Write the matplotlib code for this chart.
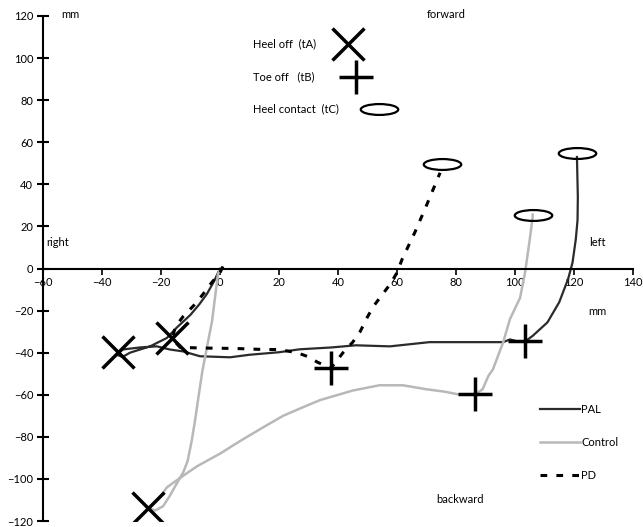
import numpy as np
import matplotlib
matplotlib.use("Agg")
import matplotlib.pyplot as plt
from matplotlib.path import Path
from matplotlib.transforms import Affine2D
from matplotlib.lines import Line2D
from matplotlib.legend import Legend

plt.rcParams['font.family'] = ['Lato', 'DejaVu Sans']

# ---------------- data ----------------
pal_x = [0, -2, -4.4, -7, -10, -14.6, -18, -23.7, -30.5, -33, -35, -33, -27, -21.4, -17, -12.5,
         -6.8, 3.4, 10, 20, 27, 38, 46, 57.6, 71, 85, 96, 98.3, 100.7, 103.5, 106, 111, 115,
         118, 119.5, 120.6, 121.2, 121.3, 121]
pal_y = [0, -6, -12, -17, -22, -28, -33, -37, -40, -42, -41, -38.5, -37.5, -37, -38.5, -39.4,
         -41.7, -42.2, -41, -39.8, -38.4, -37.5, -36.5, -37, -35, -35, -35, -33.7, -34.6, -34.6,
         -32, -25.6, -16, -5, 2.8, 13.8, 23, 34, 53]

ctrl_x = [0, -0.7, -2.7, -4.5, -6, -7.3, -8.5, -9.6, -11, -12.5, -14.6, -17, -19.3, -22, -24,
          -20, -18, -13, -7.8, 0, 6.8, 14, 21.4, 28, 34, 45, 54, 62, 70, 76, 80.7, 86.5, 89,
          91, 92.5, 96, 98.3, 101.7, 103.4, 105, 106, 106]
ctrl_y = [0, -2.8, -25, -38, -49, -61, -72.6, -82, -91.6, -97, -102, -108, -113, -115, -114,
          -108, -104, -99, -94, -88, -82, -76, -70, -66, -62.5, -58, -55.5, -55.5, -57.4, -58.5,
          -59.8, -59.8, -57.4, -51, -48, -35, -24, -14, -2, 13.8, 24.7, 25.6]

pd_x = [1, 0, -3, -5.8, -8.5, -12.5, -15, -16.3, -13.5, -5.8, 5, 15, 20, 26, 29.5, 33, 37.6,
        41.7, 45, 47.5, 50, 52, 57.6, 60, 61.7, 66, 70, 74.6]
pd_y = [1, -2, -7, -12.3, -17, -22.8, -27.5, -33.2, -37.5, -37.8, -38, -38.5, -38.5, -40, -41.7,
        -44.5, -47.4, -40, -35, -30, -23, -18, -7.6, -2, 4.3, 17, 30, 45.5]

# gait events: heel off (tA), toe off (tB), heel contact (tC) for PAL, Control, PD
heel_off_x = [-34.6, -24.4, -16.3]
heel_off_y = [-39.8, -113.9, -33.2]
toe_off_x = [103.5, 86.4, 37.6]
toe_off_y = [-34.6, -59.8, -47.4]
heel_contact_x = [121, 106, 75.3]
heel_contact_y = [55, 25.6, 49.8]

series_names = ["PAL", "Control", "PD"]
event_labels = ["Heel off  (tA)", "Toe off   (tB)", "Heel contact  (tC)"]
xticks = list(range(-60, 141, 20))
yticks = list(range(-120, 121, 20))

# ---------------- figure ----------------
fig = plt.figure(figsize=(6.43, 5.27), dpi=100)
ax = fig.add_axes([43 / 643, 6 / 527, 590 / 643, 505 / 527])
ax.set_xlim(-60, 140)
ax.set_ylim(-120, 120)

for s in ['top', 'right']:
    ax.spines[s].set_visible(False)
ax.spines['bottom'].set_position(('data', 0))
ax.spines['bottom'].set_linewidth(1.5)
ax.spines['left'].set_linewidth(1.5)
ax.set_xticks(xticks)
ax.set_yticks(yticks)
ax.tick_params(axis='y', direction='inout', length=8, width=1.5, labelsize=8, pad=3)
ax.tick_params(axis='x', direction='out', length=4, width=1.2, labelsize=8, pad=2)

pal_color = '#2b2b2b'
ctrl_color = '#b8b8b8'
l1, = ax.plot(pal_x, pal_y, color=pal_color, lw=1.6, label=series_names[0])
l2, = ax.plot(ctrl_x, ctrl_y, color=ctrl_color, lw=1.8, label=series_names[1])
l3, = ax.plot(pd_x, pd_y, color='black', lw=2.2, dashes=(2.2, 3.0), label=series_names[2])

ellipse = Path.unit_circle().transformed(Affine2D().scale(1, 0.29))

mk_x = dict(marker='x', ms=23, mew=2.5, color='black', ls='none')
mk_p = dict(marker='+', ms=24, mew=2.5, color='black', ls='none')
mk_e = dict(marker=ellipse, ms=27, mew=1.6, mfc='none', mec='black', ls='none')
ax.plot(heel_off_x, heel_off_y, **mk_x)
ax.plot(toe_off_x, toe_off_y, **mk_p)
ax.plot(heel_contact_x, heel_contact_y, **mk_e)

# series legend
leg = Legend(ax, [l1, l2, l3], series_names, loc='upper left',
             bbox_to_anchor=(0.842, 0.2317), frameon=False, fontsize=8,
             handlelength=3.6, handletextpad=0.15, labelspacing=1.97,
             borderpad=0, borderaxespad=0)
ax.add_artist(leg)

# event legends (marker after label)
ev_styles = [mk_x, mk_p, mk_e]
ev_anchor_y = [(521 - 44) / 505, (521 - 77) / 505, (521 - 109) / 505]
ev_hl = [2.6, 2.9, 3.4]
ev_pad = [1.6, 2.25, 1.9]
for lab, st, ay, hl, pd_ in zip(event_labels, ev_styles, ev_anchor_y, ev_hl, ev_pad):
    h = Line2D([], [], **st)
    lg = Legend(ax, [h], [lab], loc='center left',
                bbox_to_anchor=((253 - 43) / 590, ay), frameon=False, fontsize=8,
                markerfirst=False, handlelength=hl, handletextpad=pd_,
                borderpad=0, borderaxespad=0)
    ax.add_artist(lg)

# annotations
tk = dict(fontsize=8, ha='center', va='center')
ax.text(-50.8, 120.5, 'mm', **tk)
ax.text(76.6, 120.5, 'forward', **tk)
ax.text(81.4, -109.6, 'backward', **tk)
ax.text(-55, 12.3, 'right', **tk)
ax.text(127.8, 12.3, 'left', **tk)
ax.text(128, -20.4, 'mm', **tk)

fig.savefig('out.png', dpi=100)
